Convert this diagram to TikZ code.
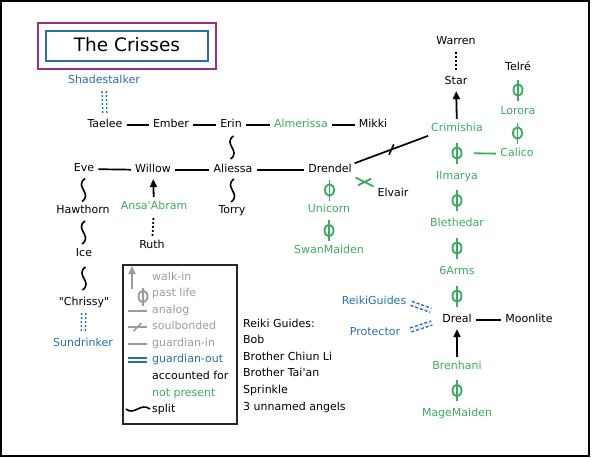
\documentclass[tikz,border=0pt]{standalone}
\usepackage{fontspec}
\setmainfont{DejaVu Sans}
\usetikzlibrary{arrows.meta,shapes.geometric,decorations.markings,calc}
\definecolor{cgreen}{RGB}{61,170,97}
\definecolor{cblue}{RGB}{36,112,178}
\definecolor{cgray}{RGB}{155,155,155}
\definecolor{cpurple}{RGB}{150,50,130}
\definecolor{ctblue}{RGB}{40,110,170}
\begin{document}
\begin{tikzpicture}[x=1pt,y=-1pt,
  every node/.style={font=\fontsize{11}{12}\selectfont, inner sep=1pt, text height=7.8pt, text depth=2pt},
  np/.style={text=cgreen},
  go/.style={text=cblue},
  gr/.style={text=cgray},
  analog/.style={draw=black, line width=1.7pt, shorten <=3pt, shorten >=3pt},
  ring/.style={ellipse, draw, minimum width=9pt, minimum height=11.5pt, inner sep=0pt, text height=0pt, text depth=0pt},
  pl/.style={color=cgreen, line width=1.9pt},
  phito/.style={to path={($(\tikztostart)!0.5!(\tikztotarget)+(0,-#1)$) -- node[ring]{} ($(\tikztostart)!0.5!(\tikztotarget)+(0,#1)$)}},
  phito/.default=10.5,
  splitc/.style={draw=black, line width=1.6pt},
  splitto/.style={to path={($(\tikztostart)!0.5!(\tikztotarget)+(1.5,-11.5)$) .. controls +(-11,8) and +(11,-8) .. ($(\tikztostart)!0.5!(\tikztotarget)+(-1.5,11.5)$)}},
  walkin/.style={line width=1.8pt, -{Triangle[length=8pt,width=7pt]}, shorten <=4pt, shorten >=3pt},
  dotc/.style={line width=1.8pt, dash pattern=on 2pt off 2pt, shorten <=4pt, shorten >=4pt},
  gout/.style={draw=cblue, double=white, double distance=2.6pt, line width=1.5pt},
  goutdot/.style={gout, dash pattern=on 2pt off 2pt, shorten <=4pt, shorten >=6pt},
  goutdash/.style={gout, dash pattern=on 3pt off 2pt},
  sb/.style={postaction={decorate}, decoration={markings, mark=at position 0.5 with {\draw[line width=1.6pt, shorten <=0pt, shorten >=0pt] (-4pt,-4pt) -- (4pt,4pt);}}},
  sbx/.style={postaction={decorate}, decoration={markings, mark=at position 0.5 with {\draw[line width=1.8pt, shorten <=0pt, shorten >=0pt] (-4.4pt,-6pt) -- (4.4pt,6pt);}}},
]
\useasboundingbox (0,0) rectangle (592,458);
\draw[line width=2pt] (1,1) rectangle (589,456);

% title
\node[draw=cpurple, line width=1.8pt, minimum width=178pt, minimum height=46pt, inner sep=0pt, text height=0pt, text depth=0pt] (tframe) at (127,46) {};
\node[draw=ctblue, line width=1.8pt, minimum width=162pt, minimum height=30pt, inner sep=0pt, font=\fontsize{18.5}{20}\selectfont, text height=13pt, text depth=3pt] (title) at (127,46) {The Crisses};

% family nodes
\node[go] (shade) at (104,81) {Shadestalker};
\node (taelee) at (105,125) {Taelee};
\node (ember) at (171,125) {Ember};
\node (erin) at (231,125) {Erin};
\node[np] (alme) at (301,125) {Almerissa};
\node (mikki) at (373,125) {Mikki};
\node (eve) at (84,169) {Eve};
\node (willow) at (153,170) {Willow};
\node (aliessa) at (233,170) {Aliessa};
\node (drendel) at (330,170) {Drendel};
\node (torry) at (232,211) {Torry};
\node (hawthorn) at (83,211) {Hawthorn};
\node (ice) at (84,254) {Ice};
\node (chrissy) at (84,303) {\textquotedbl Chrissy\textquotedbl};
\node[go] (sundr) at (83,344) {Sundrinker};
\node[np] (ansa) at (154,207) {Ansa\textquotesingle Abram};
\node (ruth) at (152,246) {Ruth};
\node[np] (unicorn) at (329,210) {Unicorn};
\node[np] (swan) at (329,251) {SwanMaiden};
\node (elvair) at (393,194) {Elvair};
\node (warren) at (456,42) {Warren};
\node (star) at (456,82) {Star};
\node[np] (crim) at (457,129) {Crimishia};
\node[np] (ilm) at (457,177) {Ilmarya};
\node[np] (bleth) at (457,224) {Blethedar};
\node[np] (six) at (457,272) {6Arms};
\node (dreal) at (457,320) {Dreal};
\node (moon) at (529,320) {Moonlite};
\node[np] (bren) at (457,367) {Brenhani};
\node[np] (mage) at (457,414) {MageMaiden};
\node (telre) at (518,68) {Telré};
\node[np] (lorora) at (518,112) {Lorora};
\node[np] (calico) at (517,154) {Calico};
\node[go] (rguides) at (374,302) {ReikiGuides};
\node[go] (prot) at (375,333) {Protector};

% analog lines
\draw[analog] (taelee) -- (ember);
\draw[analog] (ember) -- (erin);
\draw[analog] (erin) -- (alme);
\draw[analog] (alme) -- (mikki);
\draw[analog] (eve) -- (willow);
\draw[analog] (willow) -- (aliessa);
\draw[analog] (aliessa) -- (drendel);
\draw[analog] (dreal) -- (moon);
\draw[analog, sb, shorten <=2pt, shorten >=2pt] (drendel.north east) -- (crim.south west);
\draw[analog, draw=cgreen, line width=1.8pt, sbx, color=cgreen] (drendel.south east) -- (elvair.north west);
\draw[analog, draw=cgreen, line width=1.8pt, shorten <=17pt] ($(crim)!0.5!(ilm)$) -- (calico);

% splits
\draw[splitc] (erin) to[splitto] (aliessa);
\draw[splitc] (aliessa) to[splitto] (torry);
\draw[splitc] (eve) to[splitto] (hawthorn);
\draw[splitc] (hawthorn) to[splitto] (ice);
\draw[splitc] (ice) to[splitto] (chrissy);

% past lives
\draw[pl] (drendel) to[phito] (unicorn);
\draw[pl] (unicorn) to[phito] (swan);
\draw[pl] (crim) to[phito] (ilm);
\draw[pl] (ilm) to[phito] (bleth);
\draw[pl] (bleth) to[phito] (six);
\draw[pl] (six) to[phito] (dreal);
\draw[pl] (bren) to[phito] (mage);
\draw[pl] (telre) to[phito] (lorora);
\draw[pl] (lorora) to[phito] (calico);

% walk-ins
\draw[walkin] (ansa) -- (willow);
\draw[walkin] (crim) -- (star);
\draw[walkin] (bren) -- (dreal);

% dotted
\draw[dotc] (ruth) -- (ansa);
\draw[dotc] (warren) -- (star);

% guardian-out
\draw[goutdot] (shade) -- (taelee);
\draw[goutdot] (chrissy) -- (sundr);
\draw[goutdash, shorten <=4pt, shorten >=11pt] (rguides.east) -- (dreal.north west);
\draw[goutdash, shorten <=10pt, shorten >=10pt] (prot.east) -- (dreal.west);

% legend
\node[draw=black!85, line width=2pt, minimum width=114pt, minimum height=159pt, inner sep=0pt, text height=0pt, text depth=0pt] (legend) at (180,344.5) {};
\coordinate (wa) at (132,289);
\coordinate (wb) at (132,266);
\draw[walkin, color=cgray, shorten <=0pt, shorten >=0pt] (wa) -- (wb);
\coordinate (pa) at (143,287);
\coordinate (pb) at (143,306);
\draw[pl, color=cgray] (pa) to[phito=9] (pb);
\coordinate (aa) at (128,311);
\coordinate (ab) at (147,311);
\draw[line width=1.6pt, cgray] (aa) -- (ab);
\coordinate (sa) at (128,327);
\coordinate (sbb) at (147,327);
\draw[line width=1.6pt, cgray, sb] (sa) -- (sbb);
\coordinate (ga) at (128,344);
\coordinate (gb) at (147,344);
\draw[line width=1.6pt, cgray] (ga) -- (gb);
\coordinate (oa) at (128,360);
\coordinate (ob) at (147,360);
\draw[gout] (oa) -- (ob);
\coordinate (xa) at (126,409);
\coordinate (xb) at (150,409);
\draw[splitc] (xa) .. controls (134,416) and (141,402) .. (xb);

\node[gr, anchor=west] (l1) at (151,278) {walk-in};
\node[gr, anchor=west] (l2) at (151,294) {past life};
\node[gr, anchor=west] (l3) at (151,311) {analog};
\node[gr, anchor=west] (l4) at (151,327) {soulbonded};
\node[gr, anchor=west] (l5) at (151,344) {guardian-in};
\node[go, anchor=west] (l6) at (151,360) {guardian-out};
\node[anchor=west] (l7) at (151,377) {accounted for};
\node[np, anchor=west] (l8) at (151,394) {not present};
\node[anchor=west] (l9) at (151,410) {split};

% reiki guides list
\node[anchor=west] (r1) at (242,325) {Reiki Guides:};
\node[anchor=west] (r2) at (242,341) {Bob};
\node[anchor=west] (r3) at (242,358) {Brother Chiun Li};
\node[anchor=west] (r4) at (242,374) {Brother Tai\textquotesingle an};
\node[anchor=west] (r5) at (242,391) {Sprinkle};
\node[anchor=west] (r6) at (242,408) {3 unnamed angels};
\end{tikzpicture}
\end{document}
